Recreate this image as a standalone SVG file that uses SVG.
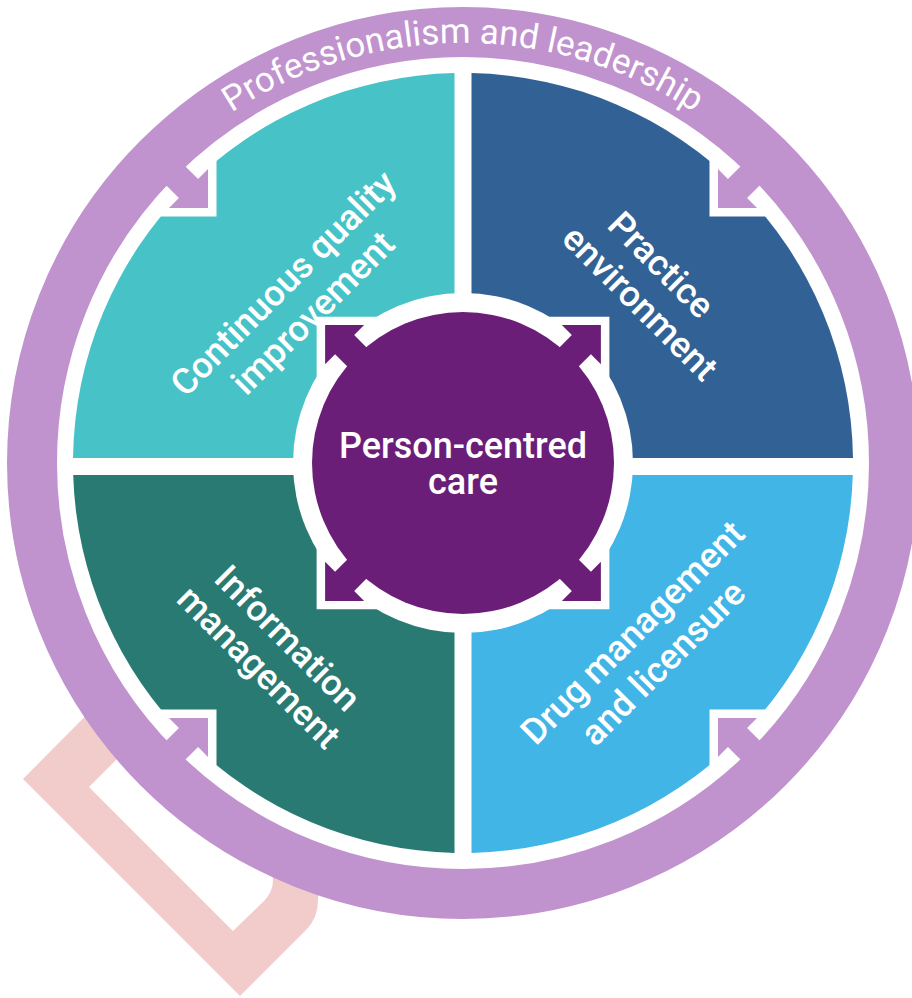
<svg xmlns="http://www.w3.org/2000/svg" width="912" height="998" viewBox="0 0 912 998">
<defs>
<style>
.ring{fill:none;stroke:#C093CE;stroke-width:50}
.wh{fill:#FFFFFF}
.pp{fill:#C093CE}
.cp{fill:#6B1E77}
.lbl{font-family:Roboto,"Liberation Sans",sans-serif;font-size:36px;font-weight:500;fill:#FFFFFF;text-anchor:middle}
.ringlbl{font-family:Roboto,"Liberation Sans",sans-serif;font-size:35px;font-weight:400;fill:#FFFFFF;text-anchor:middle}
</style>
<path id="arcTop" d="M 43,463 A 420,420 0 0 1 883,463"/>
<g id="outerArrow">
<polygon class="wh" points="348.6,0 396,47.4 396,-47.4"/>
<polygon class="pp" points="360.6,0 388.2,27.6 388.2,13.5 412,13.5 412,-13.5 388.2,-13.5 388.2,-27.6"/>
</g>
<g id="innerArrow">
<polygon class="wh" points="207,0 160,47 160,-47"/>
<polygon class="cp" points="195,0 167.4,27.6 167.4,13.5 145,13.5 145,-13.5 167.4,-13.5 167.4,-27.6"/>
</g>
</defs>

<g id="backdrop">
<path d="M 150,651 L 23,779 L 240,996 L 306,930 Q 318,918 318,900 L 318,850 L 273,850 L 273,880 Q 273,892 264,901 L 233,931 L 89,787 L 180,696 Z" fill="#F2CBCB"/>
<circle cx="463" cy="463" r="407" class="wh"/>
</g>

<g id="professionalism">
<circle cx="463" cy="463" r="431" class="ring"/>
<text class="ringlbl"><textPath href="#arcTop" startOffset="50%">Professionalism and leadership</textPath></text>
</g>

<g id="quality">
<path d="M454.5,458 L454.5,73.1 A390,390 0 0 0 73,458 Z" fill="#47C3C7"/>
<text class="lbl" transform="translate(463,463) rotate(-45)"><tspan x="0" y="-242">Continuous quality</tspan><tspan x="0" y="-200">improvement</tspan></text>
</g>
<g id="practice">
<path d="M471.5,458 L471.5,73.1 A390,390 0 0 1 853,458 Z" fill="#326295"/>
<text class="lbl" transform="translate(463,463) rotate(45)"><tspan x="0" y="-268">Practice</tspan><tspan x="12" y="-226">environment</tspan></text>
</g>
<g id="information">
<path d="M454.5,475 L73.2,475 A390,390 0 0 0 454.5,852.9 Z" fill="#297A73"/>
<text class="lbl" transform="translate(463,463) rotate(45)"><tspan x="0" y="260">Information</tspan><tspan x="0" y="301">management</tspan></text>
</g>
<g id="drug">
<path d="M471.5,475 L852.8,475 A390,390 0 0 1 471.5,852.9 Z" fill="#41B5E6"/>
<text class="lbl" transform="translate(463,463) rotate(-45)"><tspan x="0" y="252">Drug management</tspan><tspan x="0" y="295">and licensure</tspan></text>
</g>

<g id="connectors">
<use href="#outerArrow" transform="translate(463,463) rotate(-135)"/>
<use href="#outerArrow" transform="translate(463,463) rotate(-45)"/>
<use href="#outerArrow" transform="translate(463,463) rotate(45)"/>
<use href="#outerArrow" transform="translate(463,463) rotate(135)"/>
</g>

<g id="person-centred">
<circle cx="463" cy="463" r="170" class="wh"/>
<circle cx="463" cy="463" r="151" class="cp"/>
<use href="#innerArrow" transform="translate(463,463) rotate(-135)"/>
<use href="#innerArrow" transform="translate(463,463) rotate(-45)"/>
<use href="#innerArrow" transform="translate(463,463) rotate(45)"/>
<use href="#innerArrow" transform="translate(463,463) rotate(135)"/>
<text class="lbl"><tspan x="463" y="458">Person-centred</tspan><tspan x="463" y="494">care</tspan></text>
</g>
</svg>
